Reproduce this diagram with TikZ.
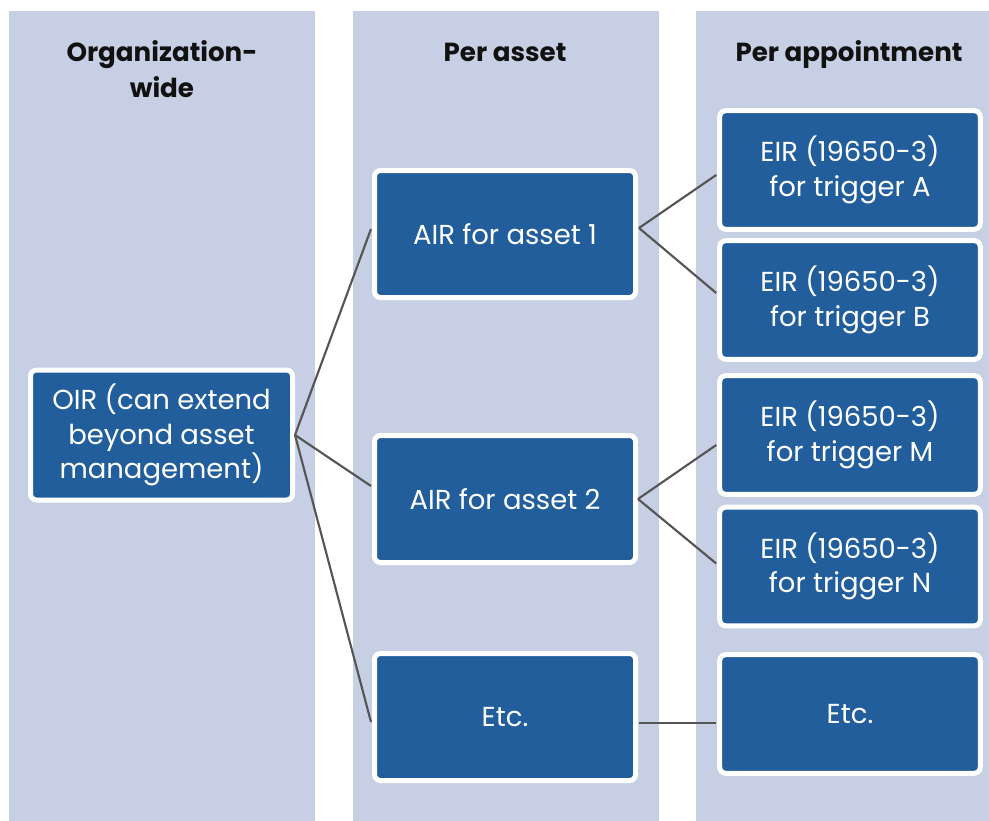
\documentclass[tikz,border=0pt]{standalone}
\usepackage{fontspec}
\setmainfont{Poppins}
\usetikzlibrary{calc}
\definecolor{lane}{HTML}{C6CFE3}
\definecolor{boxblue}{HTML}{225E9C}
\definecolor{wire}{HTML}{555555}
\definecolor{headink}{HTML}{111111}
\tikzset{
  lanebg/.style={fill=lane, draw=none},
  item/.style={draw=white, line width=3.75pt, fill=boxblue, rounded corners=4.5pt,
    text=white, align=center, inner sep=0pt, font=\fontsize{20.6}{26}\selectfont},
  colitem/.style={item, minimum width=195.75pt, minimum height=95.25pt},
  trigitem/.style={item, minimum width=195.4pt, minimum height=88.9pt},
  head/.style={text=headink, align=center, anchor=base, inner sep=0pt,
    font=\fontsize{19.6}{27}\selectfont\bfseries},
  link/.style={draw=wire, line width=1.6pt}
}
\begin{document}
\begin{tikzpicture}[x=0.75pt, y=-0.75pt]
  \useasboundingbox (0,0) rectangle (989,821);
  % background lanes
  \fill[lanebg] (9,11) rectangle (315,821);
  \fill[lanebg] (353,11) rectangle (659,821);
  \fill[lanebg] (696,11) rectangle (989,821);
  % lane headings (base anchor sits on the last line)
  \node[head] (h1) at (162,97) {Organization-\\wide};
  \node[head] (h2) at (505,61) {Per asset};
  \node[head] (h3) at (849,61) {Per appointment};
  % organization level
  \node[item, minimum width=196.5pt, minimum height=97.5pt] (oir) at (161.5,435)
    {OIR (can extend\\beyond asset\\management)};
  % asset level
  \node[colitem] (air1) at (505,234) {AIR for asset 1};
  \node[colitem] (air2) at (505,499) {AIR for asset 2};
  \node[colitem] (etc2) at (505,717) {Etc.};
  % appointment level
  \node[trigitem] (eira) at (850,170) {EIR (19650-3)\\for trigger A};
  \node[trigitem] (eirb) at (850,300) {EIR (19650-3)\\for trigger B};
  \node[trigitem] (eirm) at (850,435) {EIR (19650-3)\\for trigger M};
  \node[trigitem] (eirn) at (850,566.5) {EIR (19650-3)\\for trigger N};
  \node[trigitem] (etc3) at (850,714) {Etc.};
  % connectors
  \draw[link] (oir.east) -- ($(air1.west)+(-1,-5)$);
  \draw[link] (oir.east) -- ($(air2.west)+(-1,-13)$);
  \draw[link] (oir.east) -- ($(etc2.west)+(-1,5)$);
  \draw[link] ($(air1.east)+(1,-6)$) -- ($(eira.west)+(-1,5)$);
  \draw[link] ($(air1.east)+(1,-6)$) -- ($(eirb.west)+(-1,-7)$);
  \draw[link] (air2.east) -- ($(eirm.west)+(-1,10)$);
  \draw[link] (air2.east) -- ($(eirn.west)+(-1,-3)$);
  \draw[link] ($(etc2.east)+(1,6)$) -- ($(etc3.west)+(-1,9)$);
\end{tikzpicture}
\end{document}
